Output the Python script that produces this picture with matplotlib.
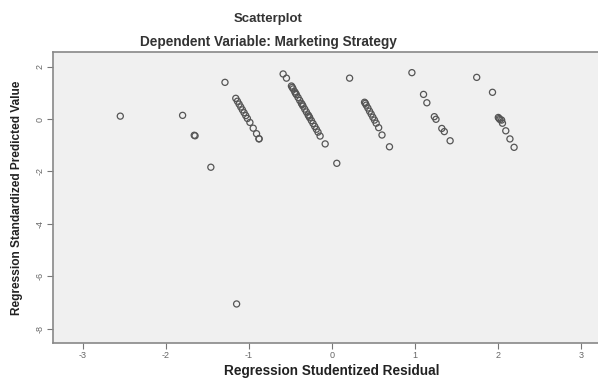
import matplotlib
matplotlib.use("Agg")
import matplotlib.pyplot as plt

plt.rcParams['font.family'] = ['Liberation Sans', 'DejaVu Sans']

# Regression Studentized Residual (x) vs Regression Standardized Predicted Value (y)
residual = [
    -2.55, -1.80, -1.65, -1.66, -1.46, -1.29, -1.15,
    # band 1
    -1.16, -1.14, -1.12, -1.10, -1.08, -1.06, -1.04, -1.02, -0.99, -0.95, -0.91, -0.88, -0.88,
    # band 2
    -0.59, -0.55, -0.49, -0.48, -0.47, -0.45, -0.44, -0.43, -0.41, -0.39, -0.37, -0.36,
    -0.35, -0.33, -0.31, -0.29, -0.28, -0.27, -0.25, -0.23, -0.21, -0.19, -0.17, -0.145,
    -0.084, 0.056,
    # band 3
    0.21, 0.39, 0.40, 0.41, 0.43, 0.45, 0.47, 0.49, 0.51, 0.53, 0.56, 0.60, 0.69,
    # band 4
    0.96, 1.10, 1.14, 1.23, 1.25, 1.32, 1.35, 1.42,
    # band 5
    1.74, 1.93, 2.00, 2.01, 2.02, 2.04, 2.05, 2.09, 2.14, 2.19,
]
predicted = [
    0.11, 0.14, -0.64, -0.62, -1.84, 1.40, -7.06,
    0.79, 0.68, 0.57, 0.46, 0.35, 0.24, 0.13, 0.02, -0.13, -0.35, -0.56, -0.75, -0.76,
    1.72, 1.56, 1.26, 1.21, 1.15, 1.04, 0.98, 0.93, 0.82, 0.71, 0.60, 0.55,
    0.49, 0.38, 0.27, 0.16, 0.11, 0.05, -0.06, -0.17, -0.28, -0.39, -0.50, -0.65,
    -0.95, -1.69,
    1.56, 0.64, 0.60, 0.53, 0.42, 0.30, 0.19, 0.07, -0.04, -0.16, -0.33, -0.61, -1.06,
    1.77, 0.94, 0.62, 0.09, -0.01, -0.36, -0.48, -0.83,
    1.59, 1.02, 0.06, 0.02, -0.02, -0.04, -0.16, -0.45, -0.76, -1.08,
]

x_ticks = [-3, -2, -1, 0, 1, 2, 3]
y_ticks = [2, 0, -2, -4, -6, -8]

title_main = "Scatterplot"
title_sub = "Dependent Variable: Marketing Strategy"
x_label = "Regression Studentized Residual"
y_label = "Regression Standardized Predicted Value"

W, H = 598, 380
fig = plt.figure(figsize=(W / 100, H / 100), dpi=100)
fig.patch.set_facecolor('white')

left, right, top, bottom = 53, 598, 51.7, 343
ax = fig.add_axes([left / W, 1 - bottom / H, (right - left) / W, (bottom - top) / H])
ax.set_facecolor('#f0f0f0')

ax.scatter(residual, predicted, s=4.4 ** 2, facecolors='none',
           edgecolors='#555555', linewidths=0.9, zorder=3)

ax.set_xlim(-3.36, 3.2)
ax.set_ylim(-8.55, 2.57)
ax.set_xticks(x_ticks)
ax.set_yticks(y_ticks)
ax.set_xticklabels([str(v) for v in x_ticks], fontsize=6.5, color='#666666')
ax.set_yticklabels([str(v) for v in y_ticks], fontsize=6.5, color='#666666',
                   rotation=90, va='center')
ax.tick_params(axis='both', direction='out', length=4, width=0.8, color='#777777', pad=2)

for side in ('left', 'bottom', 'top'):
    ax.spines[side].set_color('#888888')
    ax.spines[side].set_linewidth(1.2)
ax.spines['right'].set_visible(False)

ax.set_ylabel(y_label, fontsize=8.6, fontweight='bold', color='#222222', labelpad=9)

fig.text(332 / W, 1 - 371 / H, x_label, ha='center', va='center',
         fontsize=9.8, fontweight='bold', color='#222222')
fig.text(268 / W, 1 - 19 / H, title_main, ha='center', va='center',
         fontsize=9.5, fontweight='bold', color='#333333')
fig.text(268 / W, 1 - 42 / H, title_sub, ha='center', va='center',
         fontsize=9.8, fontweight='bold', color='#333333')

fig.savefig('out.png', dpi=100)
